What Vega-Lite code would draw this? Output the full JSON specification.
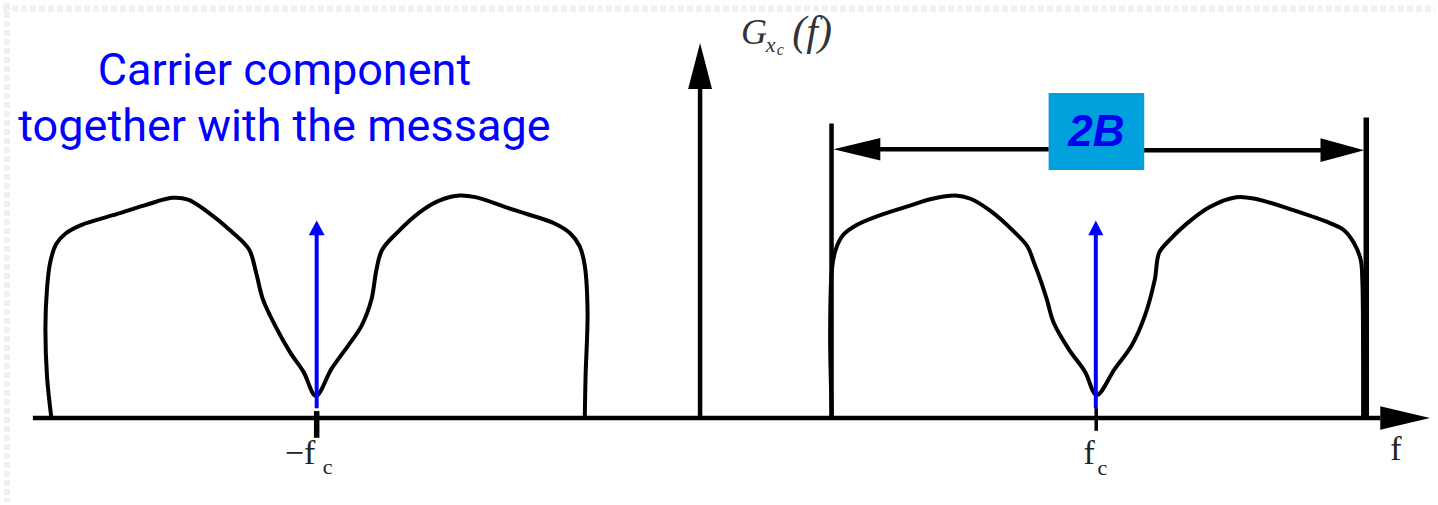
{
  "$schema": "https://vega.github.io/schema/vega-lite/v6.json",
  "width": 1438,
  "height": 505,
  "autosize": {"type": "fit", "contains": "padding"},
  "padding": 0,
  "background": "white",
  "config": {"view": {"stroke": null}},
  "datasets": {
    "frame": [
      {"edge": "top", "f": -17.575, "G": 4.145, "f2": 18.375, "G2": 4.145},
      {"edge": "left", "f": -17.475, "G": 4.2, "f2": -17.475, "G2": -0.85}
    ],
    "spectrum": [
      {"band": "negative", "i": 0, "f": -16.36, "G": 0},
      {"band": "negative", "i": 1, "f": -16.47, "G": 0.42},
      {"band": "negative", "i": 2, "f": -16.51, "G": 0.915},
      {"band": "negative", "i": 3, "f": -16.47, "G": 1.31},
      {"band": "negative", "i": 4, "f": -16.39, "G": 1.575},
      {"band": "negative", "i": 5, "f": -16.24, "G": 1.76},
      {"band": "negative", "i": 6, "f": -15.995, "G": 1.87},
      {"band": "negative", "i": 7, "f": -15.6, "G": 1.955},
      {"band": "negative", "i": 8, "f": -14.81, "G": 2.053},
      {"band": "negative", "i": 9, "f": -14.02, "G": 2.152},
      {"band": "negative", "i": 10, "f": -13.325, "G": 2.228},
      {"band": "negative", "i": 11, "f": -12.93, "G": 2.21},
      {"band": "negative", "i": 12, "f": -12.44, "G": 2.086},
      {"band": "negative", "i": 13, "f": -11.845, "G": 1.89},
      {"band": "negative", "i": 14, "f": -11.4, "G": 1.707},
      {"band": "negative", "i": 15, "f": -11.22, "G": 1.47},
      {"band": "negative", "i": 16, "f": -11.05, "G": 1.2},
      {"band": "negative", "i": 17, "f": -10.74, "G": 0.933},
      {"band": "negative", "i": 18, "f": -10.37, "G": 0.667},
      {"band": "negative", "i": 19, "f": -10.03, "G": 0.467},
      {"band": "negative", "i": 20, "f": -9.72, "G": 0.225},
      {"band": "negative", "i": 21, "f": -9.325, "G": 0.5},
      {"band": "negative", "i": 22, "f": -8.91, "G": 0.733},
      {"band": "negative", "i": 23, "f": -8.575, "G": 0.933},
      {"band": "negative", "i": 24, "f": -8.325, "G": 1.2},
      {"band": "negative", "i": 25, "f": -8.2, "G": 1.5},
      {"band": "negative", "i": 26, "f": -8.06, "G": 1.7},
      {"band": "negative", "i": 27, "f": -7.69, "G": 1.872},
      {"band": "negative", "i": 28, "f": -7.1, "G": 2.086},
      {"band": "negative", "i": 29, "f": -6.61, "G": 2.202},
      {"band": "negative", "i": 30, "f": -6.11, "G": 2.251},
      {"band": "negative", "i": 31, "f": -5.72, "G": 2.235},
      {"band": "negative", "i": 32, "f": -4.73, "G": 2.103},
      {"band": "negative", "i": 33, "f": -3.74, "G": 1.971},
      {"band": "negative", "i": 34, "f": -3.345, "G": 1.872},
      {"band": "negative", "i": 35, "f": -3.1, "G": 1.74},
      {"band": "negative", "i": 36, "f": -2.97, "G": 1.542},
      {"band": "negative", "i": 37, "f": -2.9, "G": 1.08},
      {"band": "negative", "i": 38, "f": -2.95, "G": 0.42},
      {"band": "negative", "i": 39, "f": -2.97, "G": 0},
      {"band": "positive", "i": 0, "f": 3.235, "G": 0},
      {"band": "positive", "i": 1, "f": 3.19, "G": 0.844},
      {"band": "positive", "i": 2, "f": 3.235, "G": 1.507},
      {"band": "positive", "i": 3, "f": 3.33, "G": 1.705},
      {"band": "positive", "i": 4, "f": 3.52, "G": 1.854},
      {"band": "positive", "i": 5, "f": 3.855, "G": 1.954},
      {"band": "positive", "i": 6, "f": 4.33, "G": 2.036},
      {"band": "positive", "i": 7, "f": 5.09, "G": 2.136},
      {"band": "positive", "i": 8, "f": 5.76, "G": 2.219},
      {"band": "positive", "i": 9, "f": 6.33, "G": 2.252},
      {"band": "positive", "i": 10, "f": 6.715, "G": 2.219},
      {"band": "positive", "i": 11, "f": 7.19, "G": 2.103},
      {"band": "positive", "i": 12, "f": 7.76, "G": 1.904},
      {"band": "positive", "i": 13, "f": 8.14, "G": 1.738},
      {"band": "positive", "i": 14, "f": 8.3, "G": 1.58},
      {"band": "positive", "i": 15, "f": 8.4675, "G": 1.4},
      {"band": "positive", "i": 16, "f": 8.63, "G": 1.2},
      {"band": "positive", "i": 17, "f": 8.8, "G": 0.967},
      {"band": "positive", "i": 18, "f": 9.175, "G": 0.7},
      {"band": "positive", "i": 19, "f": 9.59, "G": 0.467},
      {"band": "positive", "i": 20, "f": 9.88, "G": 0.233},
      {"band": "positive", "i": 21, "f": 10.34, "G": 0.5},
      {"band": "positive", "i": 22, "f": 10.76, "G": 0.733},
      {"band": "positive", "i": 23, "f": 11.09, "G": 1.033},
      {"band": "positive", "i": 24, "f": 11.34, "G": 1.4},
      {"band": "positive", "i": 25, "f": 11.45, "G": 1.672},
      {"band": "positive", "i": 26, "f": 11.72, "G": 1.805},
      {"band": "positive", "i": 27, "f": 12.15, "G": 1.97},
      {"band": "positive", "i": 28, "f": 12.72, "G": 2.136},
      {"band": "positive", "i": 29, "f": 13.385, "G": 2.235},
      {"band": "positive", "i": 30, "f": 13.86, "G": 2.219},
      {"band": "positive", "i": 31, "f": 14.815, "G": 2.103},
      {"band": "positive", "i": 32, "f": 15.75, "G": 1.97},
      {"band": "positive", "i": 33, "f": 16.09, "G": 1.9},
      {"band": "positive", "i": 34, "f": 16.34, "G": 1.77},
      {"band": "positive", "i": 35, "f": 16.51, "G": 1.6},
      {"band": "positive", "i": 36, "f": 16.55, "G": 1.4},
      {"band": "positive", "i": 37, "f": 16.57, "G": 0.6},
      {"band": "positive", "i": 38, "f": 16.57, "G": 0}
    ],
    "strokes": [
      {"part": "f axis", "weight": "main", "f": -16.825, "G": 0, "f2": 17.0, "G2": 0},
      {"part": "G axis", "weight": "main", "f": -0.075, "G": 0, "f2": -0.075, "G2": 3.36},
      {"part": "band edge low", "weight": "main", "f": 3.225, "G": 0, "f2": 3.225, "G2": 2.98},
      {"part": "span left", "weight": "main", "f": 4.4, "G": 2.72, "f2": 8.675, "G2": 2.72},
      {"part": "span right", "weight": "main", "f": 11.075, "G": 2.71, "f2": 15.55, "G2": 2.71},
      {"part": "band edge high", "weight": "bold", "f": 16.65, "G": 0, "f2": 16.65, "G2": 3.04},
      {"part": "tick -fc", "weight": "bold", "f": -9.7, "G": 0.07, "f2": -9.7, "G2": -0.2},
      {"part": "tick fc", "weight": "fine", "f": 9.87, "G": 0.1, "f2": 9.87, "G2": -0.13}
    ],
    "carriers": [
      {"side": "-fc", "f": -9.7, "G": 0.1, "f2": -9.7, "G2": 1.87},
      {"side": "fc", "f": 9.86, "G": 0.1, "f2": 9.86, "G2": 1.87}
    ],
    "headsH": [
      {"arrow": "span left", "f": 4.45, "G": 2.605, "G2": 2.835},
      {"arrow": "span left", "f": 3.275, "G": 2.72, "G2": 2.72},
      {"arrow": "span right", "f": 15.5, "G": 2.59, "G2": 2.83},
      {"arrow": "span right", "f": 16.6, "G": 2.71, "G2": 2.71},
      {"arrow": "f axis", "f": 17.0, "G": -0.12, "G2": 0.12},
      {"arrow": "f axis", "f": 18.25, "G": 0, "G2": 0}
    ],
    "headsV": [
      {"arrow": "G axis", "kind": "axis", "G": 3.33, "f": -0.375, "f2": 0.225},
      {"arrow": "G axis", "kind": "axis", "G": 3.795, "f": -0.075, "f2": -0.075},
      {"arrow": "carrier -fc", "kind": "carrier", "G": 1.85, "f": -9.9, "f2": -9.5},
      {"arrow": "carrier -fc", "kind": "carrier", "G": 2.0, "f": -9.7, "f2": -9.7},
      {"arrow": "carrier fc", "kind": "carrier", "G": 1.85, "f": 9.67, "f2": 10.05},
      {"arrow": "carrier fc", "kind": "carrier", "G": 2.0, "f": 9.86, "f2": 9.86}
    ],
    "badge": [
      {"f": 8.675, "f2": 11.075, "G": 2.51, "G2": 3.29}
    ],
    "labels": [
      {"role": "note", "text": "Carrier component", "f": -10.51, "G": 3.37},
      {"role": "note", "text": "together with the message", "f": -10.51, "G": 2.8},
      {"role": "badge", "text": "2B", "f": 9.875, "G": 2.75},
      {"role": "ylab", "text": "G", "f": 0.95, "G": 3.785},
      {"role": "yparen", "text": "(f)", "f": 2.24, "G": 3.78},
      {"role": "ysub", "text": "x", "f": 1.575, "G": 3.7},
      {"role": "ysubsub", "text": "c", "f": 1.85, "G": 3.67},
      {"role": "tick", "text": "−f", "f": -10.5, "G": -0.47},
      {"role": "tick", "text": "f", "f": 9.55, "G": -0.47},
      {"role": "tick", "text": "f", "f": 17.25, "G": -0.42},
      {"role": "ticksub", "text": "c", "f": -9.55, "G": -0.57},
      {"role": "ticksub", "text": "c", "f": 9.9, "G": -0.58}
    ]
  },
  "encoding": {
    "x": {"field": "f", "type": "quantitative", "axis": null,
          "scale": {"domain": [-17.575, 18.375], "nice": false, "zero": false}},
    "y": {"field": "G", "type": "quantitative", "axis": null,
          "scale": {"domain": [-0.85, 4.2], "nice": false, "zero": false}}
  },
  "layer": [
    {
      "data": {"name": "frame"},
      "mark": {"type": "rule", "color": "#F0F0F0", "strokeWidth": 6, "strokeDash": [6, 3]},
      "encoding": {"x2": {"field": "f2"}, "y2": {"field": "G2"}}
    },
    {
      "data": {"name": "badge"},
      "mark": {"type": "rect", "color": "#00A0DC"},
      "encoding": {"x2": {"field": "f2"}, "y2": {"field": "G2"}}
    },
    {
      "data": {"name": "spectrum"},
      "mark": {"type": "line", "color": "black", "strokeWidth": 4, "interpolate": "catmull-rom", "strokeJoin": "round"},
      "encoding": {"detail": {"field": "band"}, "order": {"field": "i", "type": "quantitative"}}
    },
    {
      "data": {"name": "strokes"},
      "transform": [{"filter": "datum.weight === 'main'"}],
      "mark": {"type": "rule", "color": "black", "strokeWidth": 4.5},
      "encoding": {"x2": {"field": "f2"}, "y2": {"field": "G2"}}
    },
    {
      "data": {"name": "strokes"},
      "transform": [{"filter": "datum.weight === 'bold'"}],
      "mark": {"type": "rule", "color": "black", "strokeWidth": 5.5},
      "encoding": {"x2": {"field": "f2"}, "y2": {"field": "G2"}}
    },
    {
      "data": {"name": "strokes"},
      "transform": [{"filter": "datum.weight === 'fine'"}],
      "mark": {"type": "rule", "color": "black", "strokeWidth": 3.5},
      "encoding": {"x2": {"field": "f2"}, "y2": {"field": "G2"}}
    },
    {
      "data": {"name": "headsH"},
      "mark": {"type": "area", "color": "black", "orient": "vertical"},
      "encoding": {"y2": {"field": "G2"}, "detail": {"field": "arrow"}}
    },
    {
      "data": {"name": "headsV"},
      "transform": [{"filter": "datum.kind === 'axis'"}],
      "mark": {"type": "area", "color": "black", "orient": "horizontal"},
      "encoding": {"x2": {"field": "f2"}, "detail": {"field": "arrow"}}
    },
    {
      "data": {"name": "carriers"},
      "mark": {"type": "rule", "color": "#0000FF", "strokeWidth": 4},
      "encoding": {"x2": {"field": "f2"}, "y2": {"field": "G2"}}
    },
    {
      "data": {"name": "headsV"},
      "transform": [{"filter": "datum.kind === 'carrier'"}],
      "mark": {"type": "area", "color": "#0000FF", "orient": "horizontal"},
      "encoding": {"x2": {"field": "f2"}, "detail": {"field": "arrow"}}
    },
    {
      "data": {"name": "labels"},
      "transform": [{"filter": "datum.role === 'note'"}],
      "mark": {"type": "text", "font": "Roboto", "fontSize": 45, "color": "#0000FF", "align": "center", "baseline": "alphabetic"},
      "encoding": {"text": {"field": "text"}}
    },
    {
      "data": {"name": "labels"},
      "transform": [{"filter": "datum.role === 'badge'"}],
      "mark": {"type": "text", "font": "Liberation Sans", "fontSize": 44, "fontWeight": "bold", "fontStyle": "italic", "color": "#0000F0", "align": "center", "baseline": "alphabetic"},
      "encoding": {"text": {"field": "text"}}
    },
    {
      "data": {"name": "labels"},
      "transform": [{"filter": "datum.role === 'ylab'"}],
      "mark": {"type": "text", "font": "Liberation Serif", "fontSize": 36, "fontStyle": "italic", "color": "#333333", "align": "left", "baseline": "alphabetic"},
      "encoding": {"text": {"field": "text"}}
    },
    {
      "data": {"name": "labels"},
      "transform": [{"filter": "datum.role === 'yparen'"}],
      "mark": {"type": "text", "font": "Liberation Serif", "fontSize": 42, "fontStyle": "italic", "color": "#333333", "align": "left", "baseline": "alphabetic"},
      "encoding": {"text": {"field": "text"}}
    },
    {
      "data": {"name": "labels"},
      "transform": [{"filter": "datum.role === 'ysub'"}],
      "mark": {"type": "text", "font": "Liberation Serif", "fontSize": 22, "fontStyle": "italic", "color": "#333333", "align": "left", "baseline": "alphabetic"},
      "encoding": {"text": {"field": "text"}}
    },
    {
      "data": {"name": "labels"},
      "transform": [{"filter": "datum.role === 'ysubsub'"}],
      "mark": {"type": "text", "font": "Liberation Serif", "fontSize": 16, "fontStyle": "italic", "color": "#333333", "align": "left", "baseline": "alphabetic"},
      "encoding": {"text": {"field": "text"}}
    },
    {
      "data": {"name": "labels"},
      "transform": [{"filter": "datum.role === 'tick'"}],
      "mark": {"type": "text", "font": "Liberation Serif", "fontSize": 34, "color": "#222222", "align": "left", "baseline": "alphabetic"},
      "encoding": {"text": {"field": "text"}}
    },
    {
      "data": {"name": "labels"},
      "transform": [{"filter": "datum.role === 'ticksub'"}],
      "mark": {"type": "text", "font": "Liberation Serif", "fontSize": 22, "color": "#222222", "align": "left", "baseline": "alphabetic"},
      "encoding": {"text": {"field": "text"}}
    }
  ]
}
